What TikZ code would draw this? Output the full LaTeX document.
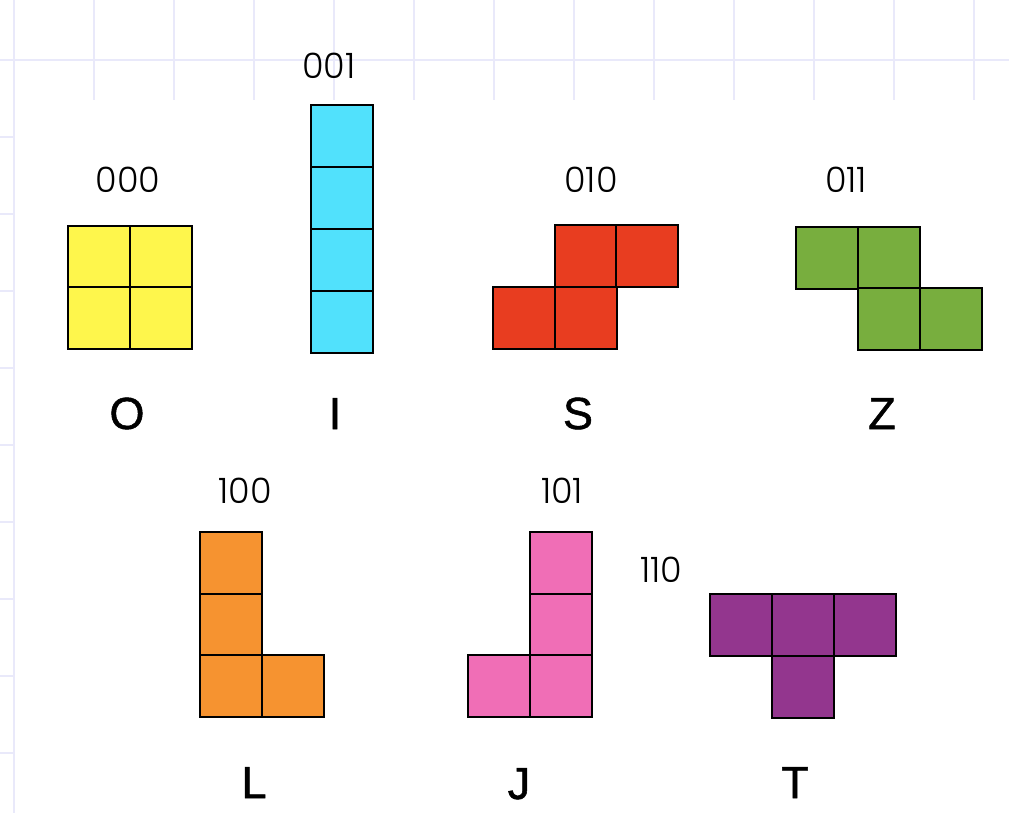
\documentclass[tikz,border=0pt]{standalone}
\usepackage{fontspec}
\setmainfont{Liberation Sans}
\newfontfamily\digitfont{Poppins Light}
\newfontfamily\piecefont{Liberation Sans}[FakeBold=1.2]
\definecolor{gridc}{HTML}{E9E9FA}
\definecolor{cO}{HTML}{FEF64C}
\definecolor{cI}{HTML}{51E1FC}
\definecolor{cS}{HTML}{E83D20}
\definecolor{cZ}{HTML}{78AE3E}
\definecolor{cL}{HTML}{F69330}
\definecolor{cJ}{HTML}{F06EB6}
\definecolor{cT}{HTML}{93368E}
\tikzset{
  gridline/.style={draw=gridc, line width=1.5pt},
  cell/.style={draw=black, line width=1.4pt, minimum width=62pt, minimum height=62pt, inner sep=0pt, outer sep=0pt},
  code/.style={font=\digitfont\fontsize{35}{35}\selectfont, anchor=base, inner sep=0pt},
  piece/.style={font=\piecefont\fontsize{45}{45}\selectfont, anchor=base, inner sep=0pt}
}
\begin{document}
\begin{tikzpicture}[x=1pt,y=-1pt]
\useasboundingbox (0,0) rectangle (1009,813);
\fill[white] (0,0) rectangle (1009,813);
% background grid
\draw[gridline] (0,60) -- (1009,60);
\draw[gridline] (14,0) -- (14,813);
\foreach \k in {1,...,12} { \draw[gridline] ({14+80*\k},0) -- ({14+80*\k},100); }
\foreach \k in {1,...,9} { \draw[gridline] (0,{60+77*\k}) -- (14,{60+77*\k}); }
% O
\node[cell, fill=cO] (o1) at (99,257) {};
\node[cell, fill=cO] (o2) at (161,257) {};
\node[cell, fill=cO] (o3) at (99,318) {};
\node[cell, fill=cO] (o4) at (161,318) {};
% I
\node[cell, fill=cI] (i1) at (342,136) {};
\node[cell, fill=cI] (i2) at (342,198) {};
\node[cell, fill=cI] (i3) at (342,260) {};
\node[cell, fill=cI] (i4) at (342,322) {};
% S
\node[cell, fill=cS] (s1) at (524,318) {};
\node[cell, fill=cS] (s2) at (586,318) {};
\node[cell, fill=cS] (s3) at (586,256) {};
\node[cell, fill=cS] (s4) at (647,256) {};
% Z
\node[cell, fill=cZ] (z1) at (827,258) {};
\node[cell, fill=cZ] (z2) at (889,258) {};
\node[cell, fill=cZ] (z3) at (889,319) {};
\node[cell, fill=cZ] (z4) at (951,319) {};
% L
\node[cell, fill=cL] (l1) at (231,563) {};
\node[cell, fill=cL] (l2) at (231,625) {};
\node[cell, fill=cL] (l3) at (231,686) {};
\node[cell, fill=cL] (l4) at (293,686) {};
% J
\node[cell, fill=cJ] (j1) at (561,563) {};
\node[cell, fill=cJ] (j2) at (561,625) {};
\node[cell, fill=cJ] (j3) at (561,686) {};
\node[cell, fill=cJ] (j4) at (499,686) {};
% T
\node[cell, fill=cT] (t1) at (741,625) {};
\node[cell, fill=cT] (t2) at (803,625) {};
\node[cell, fill=cT] (t3) at (865,625) {};
\node[cell, fill=cT] (t4) at (803,687) {};
% codes
\node[code] (k000) at (128,193) {000};
\node[code] (k001) at (329,79) {001};
\node[code] (k010) at (591,193) {010};
\node[code] (k011) at (846,193) {011};
\node[code] (k100) at (245,503) {100};
\node[code] (k101) at (562,503) {101};
\node[code] (k110) at (661,582) {110};
% names
\node[piece] (nO) at (127,429) {O};
\node[piece] (nI) at (335,429) {I};
\node[piece] (nS) at (578,429) {S};
\node[piece] (nZ) at (882,429) {Z};
\node[piece] (nL) at (254,798) {L};
\node[piece] (nJ) at (519,799) {J};
\node[piece] (nT) at (795,798) {T};
\end{tikzpicture}
\end{document}
